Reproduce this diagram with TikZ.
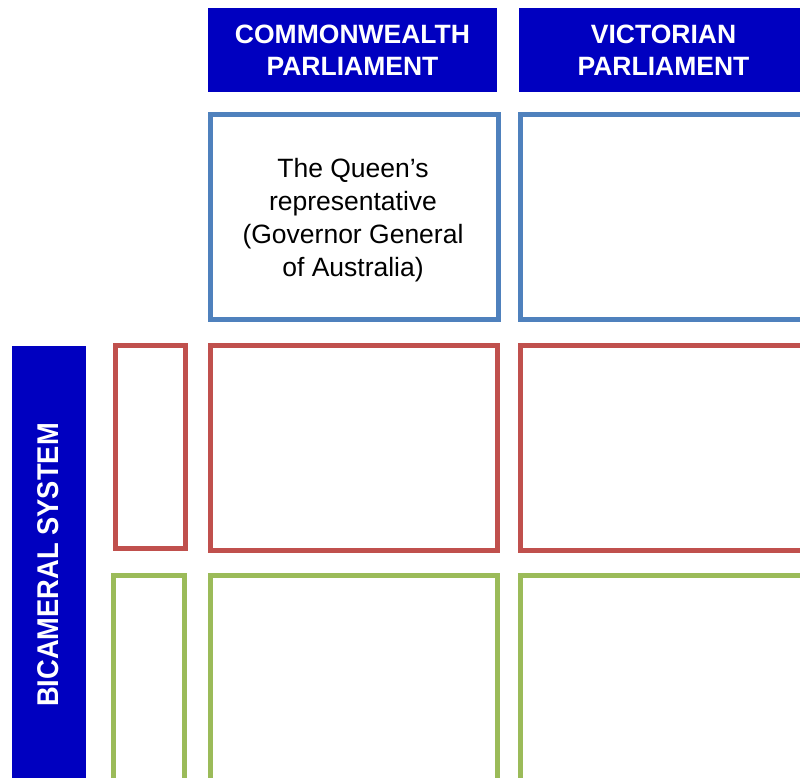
\documentclass[tikz,border=0pt]{standalone}
\usepackage{fontspec}
\setmainfont{Liberation Sans}
\newfontfamily\narrowbold[FakeStretch=0.91]{Liberation Sans}
\definecolor{hdrblue}{RGB}{0,0,192}
\definecolor{boxblue}{RGB}{79,129,189}
\definecolor{boxred}{RGB}{192,80,77}
\definecolor{boxgreen}{RGB}{155,187,89}
\tikzset{
  header/.style={rectangle, fill=hdrblue, draw=none, inner sep=0pt, minimum width=289pt, minimum height=84pt,
    text=white, font=\fontsize{26.5}{32}\selectfont\bfseries, align=center},
  cell/.style={rectangle, line width=5pt, fill=none, inner sep=0pt},
  bluecell/.style={cell, draw=boxblue},
  redcell/.style={cell, draw=boxred},
  greencell/.style={cell, draw=boxgreen},
  celltext/.style={align=center, inner sep=0pt, font=\fontsize{26.5}{33}\selectfont},
}
\begin{document}
\begin{tikzpicture}[x=1pt,y=1pt]
\useasboundingbox (0,0) rectangle (800,778);
\clip (0,0) rectangle (800,778);
\fill[white] (0,0) rectangle (800,778);
% headers
\node[header] (h1) at (352.5,728) {COMMONWEALTH\\PARLIAMENT};
\node[header] (h2) at (663.5,728) {VICTORIAN\\PARLIAMENT};
% row 1 (blue)
\node[bluecell, minimum width=288pt, minimum height=205pt] (b1) at (354,560.5) {};
\node[celltext] (b1text) at (353,558)
  {The Queen’s\\representative\\(Governor General\\of Australia)};
\node[bluecell, minimum width=288pt, minimum height=205pt] (b2) at (664,560.5) {};
% row 2 (red)
\node[redcell, minimum width=70pt, minimum height=203pt] (r0) at (150,330.5) {};
\node[redcell, minimum width=287pt, minimum height=205pt] (r1) at (353.5,329.5) {};
\node[redcell, minimum width=288pt, minimum height=205pt] (r2) at (664,329.5) {};
% row 3 (green)
\node[greencell, minimum width=71pt, minimum height=214pt] (g0) at (148.5,95) {};
\node[greencell, minimum width=287pt, minimum height=214pt] (g1) at (353.5,95) {};
\node[greencell, minimum width=288pt, minimum height=214pt] (g2) at (664,95) {};
% side bar
\node[rectangle, fill=hdrblue, inner sep=0pt, minimum width=74pt, minimum height=444pt] (bar) at (49,210) {};
\node[rotate=90, text=white, font=\fontsize{30}{30}\narrowbold\bfseries] (bartext) at (48.5,213) {BICAMERAL SYSTEM};
\end{tikzpicture}
\end{document}
